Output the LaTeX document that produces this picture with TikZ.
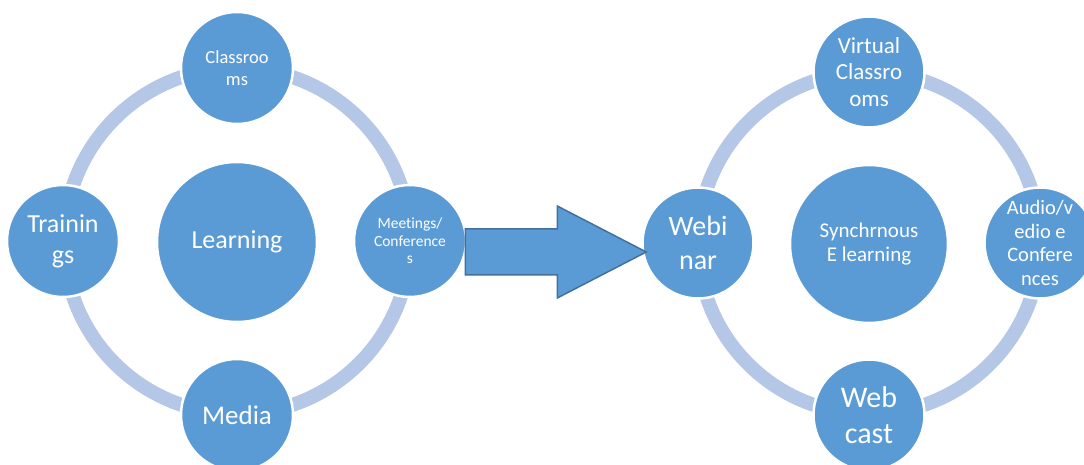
\documentclass[tikz,border=0pt]{standalone}
\usepackage{fontspec}
\setmainfont{Carlito}[Ligatures=NoCommon]
\definecolor{nodeblue}{HTML}{5B9BD5}
\definecolor{ringblue}{HTML}{B4C7E7}
\definecolor{edgeblue}{HTML}{41719C}
\newcommand{\fsz}[2]{\fontsize{#1bp}{#2bp}\selectfont}
\tikzset{
  ring/.style={draw=ringblue, line width=14bp},
  bubble/.style={circle, fill=nodeblue, draw=white, line width=2.5bp,
    inner sep=0pt, minimum size=112bp, text=white, align=center},
  hub/.style={bubble, minimum size=160bp},
  bigarrow/.style={fill=nodeblue, draw=edgeblue, line width=1.5bp, line join=miter}
}
\begin{document}
\begin{tikzpicture}[x=1bp,y=-1bp]
\useasboundingbox (0,0) rectangle (1084,465);

% left cycle: traditional learning
\draw[ring] (237,241) circle[radius=173];
\node[hub, font=\fsz{26}{31}] (learn) at (237,242) {Learning};
\node[bubble, font=\fsz{18.5}{22}] (class) at (237,68) {Classroo\\ms};
\node[bubble, font=\fsz{26}{31}] (train) at (63,241) {Trainin\\gs};
\node[bubble, font=\fsz{15.5}{17.5}] (meet) at (410,241) {Meetings/\\Conference\\s};
\node[bubble, font=\fsz{27}{32}] (media) at (237,415) {Media};

% right cycle: synchronous e-learning
\draw[ring] (869,243) circle[radius=171];
\node[hub, minimum size=158bp, font=\fsz{21}{24.5}] (sync) at (869,244) {Synchrnous\\E learning};
\node[bubble, minimum size=111bp, font=\fsz{23}{26.5}] (virt) at (869,72) {Virtual\\Classro\\oms};
\node[bubble, minimum size=111bp, font=\fsz{28}{33.5}] (web) at (698,243) {Webi\\nar};
\node[bubble, minimum size=111bp, font=\fsz{20.5}{23.5}] (audio) at (1040,243) {Audio/v\\edio e\\Confere\\nces};
\node[bubble, minimum size=111bp, font=\fsz{30}{36}] (cast) at (869,415) {Web\\cast};

% block arrow from the left cycle to the right one
\coordinate (tail) at ([xshift=-2bp]meet.east |- 0,252);
\coordinate (tip) at ([xshift=5bp]web.west |- 0,252);
\draw[bigarrow] (tail) ++(0,-23) -- ++(92,0) -- ++(0,-23) -- (tip)
  -- ([shift={(92,46)}]tail) -- ++(0,-23) -- ++(-92,0) -- cycle;
\end{tikzpicture}
\end{document}
